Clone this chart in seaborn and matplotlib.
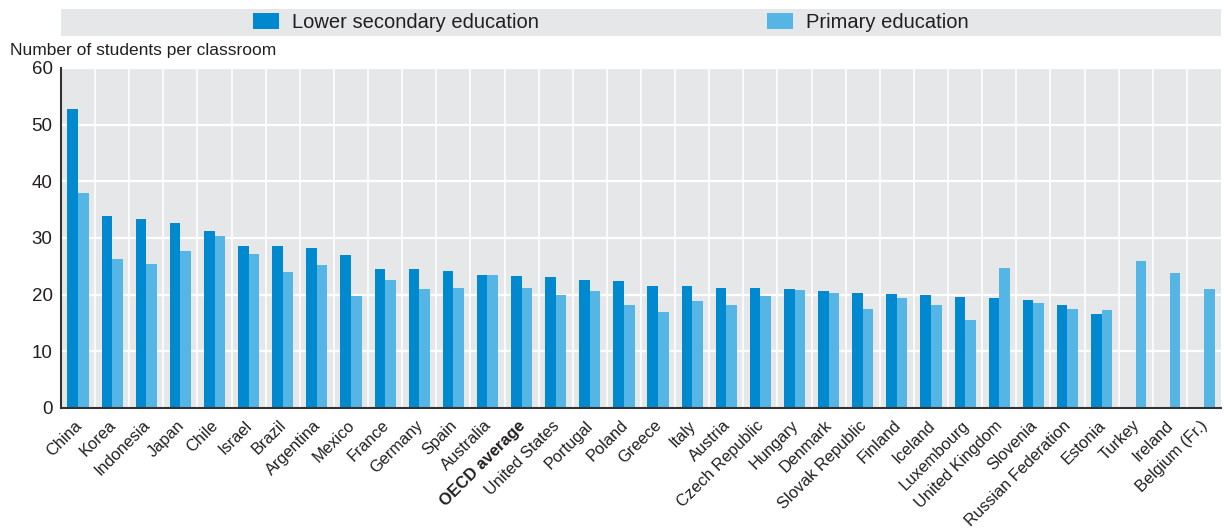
import matplotlib
matplotlib.use("Agg")
import matplotlib.pyplot as plt
import seaborn as sns
import pandas as pd
import numpy as np
from matplotlib.patches import Rectangle, Patch

countries = ["China", "Korea", "Indonesia", "Japan", "Chile", "Israel", "Brazil",
             "Argentina", "Mexico", "France", "Germany", "Spain", "Australia",
             "OECD average", "United States", "Portugal", "Poland", "Greece", "Italy",
             "Austria", "Czech Republic", "Hungary", "Denmark", "Slovak Republic",
             "Finland", "Iceland", "Luxembourg", "United Kingdom", "Slovenia",
             "Russian Federation", "Estonia", "Turkey", "Ireland", "Belgium (Fr.)"]
lower_secondary = [52.8, 33.9, 33.4, 32.6, 31.2, 28.6, 28.6, 28.2, 27.0, 24.5, 24.5,
                   24.2, 23.5, 23.3, 23.1, 22.6, 22.4, 21.5, 21.5, 21.2, 21.2, 21.0,
                   20.6, 20.3, 20.1, 19.9, 19.6, 19.4, 19.1, 18.2, 16.6,
                   np.nan, np.nan, np.nan]
primary = [37.9, 26.3, 25.4, 27.7, 30.4, 27.2, 24.0, 25.2, 19.8, 22.6, 21.0,
           21.2, 23.5, 21.2, 19.9, 20.6, 18.2, 16.9, 18.9, 18.2, 19.8, 20.8,
           20.3, 17.5, 19.4, 18.2, 15.5, 24.7, 18.5, 17.5, 17.3, 25.9, 23.8, 21.0]
series = ["Lower secondary education", "Primary education"]
colors = ["#0089CF", "#55B6E6"]
y_ticks = [0, 10, 20, 30, 40, 50, 60]

df = pd.DataFrame({
    "country": countries * 2,
    "series": [series[0]] * len(countries) + [series[1]] * len(countries),
    "value": lower_secondary + primary,
})

sns.set_theme(style="white")
plt.rcParams["font.family"] = ["Liberation Sans", "DejaVu Sans"]
text_color = "#231F20"

fig = plt.figure(figsize=(12.24, 5.32), dpi=100)
ax = fig.add_axes([61 / 1224, 124 / 532, 1160 / 1224, 340 / 532])
ax.set_facecolor("#E6E7E9")

sns.barplot(data=df, x="country", y="value", hue="series", order=countries,
            hue_order=series, palette=colors, width=0.62, saturation=1,
            linewidth=0, edgecolor="none", ax=ax, legend=False, zorder=3)

n = len(countries)
ax.set_xlim(-0.5, n - 0.5)
ax.set_ylim(0, 60)
ax.set_yticks(y_ticks)
ax.set_yticklabels([str(v) for v in y_ticks], fontsize=13.5, color=text_color)
# label anchors slightly left of the category centre (invisible major ticks)
ax.set_xticks(np.arange(n) - 0.12)
ax.set_xticklabels(countries, rotation=45, ha="right", rotation_mode="anchor",
                   fontsize=11.8, color=text_color)
for lbl in ax.get_xticklabels():
    if lbl.get_text() == "OECD average":
        lbl.set_fontweight("bold")
ax.tick_params(axis="x", which="major", length=0, pad=7)
ax.set_xticks(np.arange(0.5, n - 0.5, 1), minor=True)
ax.tick_params(axis="x", which="minor", direction="in", length=4, color="#555555", width=1)
ax.tick_params(axis="y", which="major", direction="in", length=4, color="#333333", pad=6)

ax.grid(axis="y", which="major", color="white", linewidth=1.6, zorder=1)
ax.grid(axis="x", which="minor", color="white", linewidth=1.2, zorder=1)
ax.grid(axis="x", which="major", visible=False)
ax.set_axisbelow(True)

for s in ["top", "right"]:
    ax.spines[s].set_visible(False)
for s in ["left", "bottom"]:
    ax.spines[s].set_color("#333333")
    ax.spines[s].set_linewidth(1.5)
    ax.spines[s].set_zorder(4)

ax.set_xlabel("")
ax.set_ylabel("")
fig.text(10 / 1224, 1 - 50 / 532, "Number of students per classroom", fontsize=12.5,
         color=text_color, va="center", ha="left")

# legend band
fig.patches.append(Rectangle((61 / 1224, 1 - 36 / 532), 1160 / 1224, 27 / 532,
                             transform=fig.transFigure, facecolor="#E6E7E9",
                             edgecolor="none", zorder=0))
handles = [Patch(facecolor=c, edgecolor="none") for c in colors]
fig.legend(handles, series, loc="center left", bbox_to_anchor=(253 / 1224, 1 - 22.5 / 532),
           ncol=2, frameon=False, fontsize=14.5, columnspacing=11.3,
           handlelength=1.3, handleheight=0.8, handletextpad=0.65,
           borderpad=0, borderaxespad=0, labelcolor=text_color)

fig.savefig("out.png", dpi=100)
